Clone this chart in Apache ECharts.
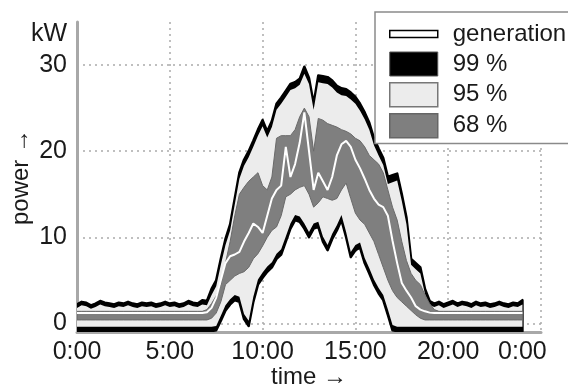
<!DOCTYPE html>
<html>
<head>
<meta charset="utf-8">
<script src="https://cdn.jsdelivr.net/npm/echarts@6/dist/echarts.min.js"></script>
<style>
  html, body { margin: 0; padding: 0; background: #fff; }
  #chart { width: 568px; height: 387px; }
</style>
</head>
<body>
<div id="chart"></div>
<script>
// quarter-hour steps over one day (0:00 .. 24:00)
const hours = [];
for (let i = 0; i <= 96; i++) hours.push(i / 4);

// upper / lower bounds of the quantile bands (kW)
const upper99 = [
  2.2, 2.5, 2.4, 2.1, 2.3, 2.6, 2.4, 2.3, 2.2, 2.4, 2.3, 2.5, 2.3, 2.2, 2.4, 2.3,
  2.4, 2.2, 2.3, 2.5, 2.3, 2.4, 2.2, 2.3, 2.6, 2.4, 2.3, 2.7,
  2.6, 4.0, 5.0, 7.5, 9.8, 11.5, 14.5, 17.5, 19.0, 20.0, 21.2, 22.5,
  23.6, 22.3, 23.5, 25.5, 26.2, 27.0, 27.8, 28.0, 28.4, 29.8, 28.5, 25.5,
  28.8, 28.7, 28.6, 28.2, 27.6, 27.3, 27.2, 26.8, 26.3, 25.5, 24.5, 23.3,
  21.5, 20.3, 19.2, 17.0, 17.2, 17.4, 15.0, 12.3, 7.5, 7.0, 6.5, 4.0, 2.6,
  2.3, 2.5, 2.2, 2.4, 2.6, 2.3, 2.5, 2.4, 2.2, 2.5, 2.3, 2.4, 2.2, 2.3, 2.5,
  2.3, 2.2, 2.4, 2.3, 2.7
];
const upper95 = [
  1.8, 2.1, 2.0, 1.7, 1.9, 2.2, 2.0, 1.9, 1.8, 2.0, 1.9, 2.1, 1.9, 1.8, 2.0, 1.9,
  2.0, 1.8, 1.9, 2.1, 1.9, 2.0, 1.8, 1.9, 2.2, 2.0, 1.9, 2.2,
  2.1, 3.3, 4.3, 6.8, 9.1, 10.8, 13.8, 16.8, 18.3, 19.3, 20.5, 21.8,
  22.9, 21.6, 22.8, 24.8, 25.5, 26.3, 27.1, 27.3, 27.7, 29.0, 27.8, 24.8,
  28.0, 27.9, 27.8, 27.4, 26.8, 26.5, 26.4, 26.0, 25.5, 24.7, 23.7, 22.5,
  20.7, 19.5, 18.4, 16.2, 16.4, 16.6, 14.2, 11.5, 6.8, 6.3, 5.8, 3.4, 2.1,
  1.9, 2.1, 1.8, 2.0, 2.2, 1.9, 2.1, 2.0, 1.8, 2.1, 1.9, 2.0, 1.8, 1.9, 2.1,
  1.9, 1.8, 2.0, 1.9, 2.2
];
const upper68 = [
  1.4, 1.4, 1.4, 1.4, 1.4, 1.4, 1.4, 1.4, 1.4, 1.4, 1.4, 1.4, 1.4, 1.4, 1.4, 1.4,
  1.4, 1.4, 1.4, 1.4, 1.4, 1.4, 1.4, 1.4, 1.4, 1.4, 1.4, 1.4,
  1.6, 2.3, 3.2, 4.5, 7.0, 9.5, 12.5, 15.0, 15.8, 16.5, 17.0, 17.5,
  16.0, 15.5, 17.0, 21.5, 21.8, 21.8, 21.8, 22.5, 24.0, 25.0, 24.0, 20.0,
  23.8, 23.6, 23.2, 23.0, 22.8, 22.5, 22.3, 22.0, 21.5, 21.2, 20.5, 19.5,
  19.0, 18.5, 17.5, 15.5, 13.5, 12.0, 9.5, 7.3, 5.8, 5.0, 4.5, 3.3, 2.3,
  1.6, 1.4, 1.4, 1.4, 1.4, 1.4, 1.4, 1.4, 1.4, 1.4, 1.4, 1.4, 1.4, 1.4, 1.4,
  1.4, 1.4, 1.4, 1.4, 1.4
];
const generation = [
  1.2, 1.2, 1.2, 1.2, 1.2, 1.2, 1.2, 1.2, 1.2, 1.2, 1.2, 1.2, 1.2, 1.2, 1.2, 1.2,
  1.2, 1.2, 1.2, 1.2, 1.2, 1.2, 1.2, 1.2, 1.2, 1.2, 1.2, 1.2,
  1.3, 1.8, 3.0, 5.0, 7.0, 7.8, 8.0, 8.3, 9.5, 10.5, 11.6, 11.2,
  10.5, 12.5, 14.5, 15.5, 16.0, 20.5, 17.0, 18.5, 21.0, 24.5, 20.0, 15.5,
  17.5, 16.5, 15.5, 17.0, 19.5, 20.8, 21.2, 20.5, 19.0, 18.0, 16.8, 15.5,
  14.5, 13.8, 13.5, 12.5, 9.6, 7.0, 4.7, 3.8, 3.0, 2.0, 1.6, 1.4, 1.25,
  1.2, 1.2, 1.2, 1.2, 1.2, 1.2, 1.2, 1.2, 1.2, 1.2, 1.2, 1.2, 1.2, 1.2, 1.2,
  1.2, 1.2, 1.2, 1.2, 1.2
];
const lower68 = [
  0.4, 0.4, 0.4, 0.4, 0.4, 0.4, 0.4, 0.4, 0.4, 0.4, 0.4, 0.4, 0.4, 0.4, 0.4, 0.4,
  0.4, 0.4, 0.4, 0.4, 0.4, 0.4, 0.4, 0.4, 0.4, 0.4, 0.4, 0.4,
  0.4, 0.6, 1.2, 2.5, 4.5, 5.0, 5.5, 5.8, 6.0, 6.5, 7.5, 8.1,
  9.0, 10.0, 10.8, 11.2, 12.5, 14.7, 15.0, 15.5, 15.8, 16.0, 15.0, 13.5,
  14.0, 14.7, 14.5, 14.3, 14.5, 15.5, 16.3, 14.5, 12.8, 12.0, 11.5, 10.5,
  9.5, 8.0, 6.5, 5.0, 3.8, 3.0, 2.5, 2.0, 1.5, 1.0, 0.6, 0.4, 0.4,
  0.4, 0.4, 0.4, 0.4, 0.4, 0.4, 0.4, 0.4, 0.4, 0.4, 0.4, 0.4, 0.4, 0.4, 0.4,
  0.4, 0.4, 0.4, 0.4, 0.4
];
const lower95 = [
  -0.4, -0.4, -0.4, -0.4, -0.4, -0.4, -0.4, -0.4, -0.4, -0.4, -0.4, -0.4, -0.4, -0.4, -0.4, -0.4,
  -0.4, -0.4, -0.4, -0.4, -0.4, -0.4, -0.4, -0.4, -0.4, -0.4, -0.4, -0.4,
  -0.4, -0.4, -0.3, 0.9, 2.1, 2.8, 3.3, 3.1, 1.1, 0.3, 3.1, 5.1,
  5.9, 6.6, 7.1, 8.1, 8.6, 10.1, 11.6, 12.6, 12.4, 11.6, 10.6, 11.6,
  11.8, 10.1, 9.1, 10.4, 11.4, 12.6, 10.6, 8.3, 9.1, 9.4, 7.6, 6.4,
  5.1, 4.1, 3.3, 1.6, -0.2, -0.4, -0.4, -0.4, -0.4, -0.4, -0.4, -0.4, -0.4,
  -0.4, -0.4, -0.4, -0.4, -0.4, -0.4, -0.4, -0.4, -0.4, -0.4, -0.4, -0.4, -0.4, -0.4, -0.4,
  -0.4, -0.4, -0.4, -0.4, -0.4
];
const lower99 = [
  -0.9, -0.9, -0.9, -0.9, -0.9, -0.9, -0.9, -0.9, -0.9, -0.9, -0.9, -0.9, -0.9, -0.9, -0.9, -0.9,
  -0.9, -0.9, -0.9, -0.9, -0.9, -0.9, -0.9, -0.9, -0.9, -0.9, -0.9, -0.9,
  -0.9, -0.9, -0.8, 0.3, 1.5, 2.2, 2.7, 2.5, 0.5, -0.3, 2.5, 4.5,
  5.3, 6.0, 6.5, 7.5, 8.0, 9.5, 11.0, 12.0, 11.8, 11.0, 10.0, 11.0,
  11.2, 9.5, 8.5, 9.8, 10.8, 12.0, 10.0, 7.7, 8.5, 8.8, 7.0, 5.8,
  4.5, 3.5, 2.7, 1.0, -0.8, -0.9, -0.9, -0.9, -0.9, -0.9, -0.9, -0.9, -0.9,
  -0.9, -0.9, -0.9, -0.9, -0.9, -0.9, -0.9, -0.9, -0.9, -0.9, -0.9, -0.9, -0.9, -0.9, -0.9,
  -0.9, -0.9, -0.9, -0.9, -0.9
];

const xTickLabels = [0, 5, 10, 15, 20, 24];
const yTickLabels = [0, 10, 20, 30];

const FONT = '"Liberation Sans", Arial, sans-serif';
const TEXT = '#1a1a1a';

// one band = a polygon from the upper bound, back along the lower bound
function band(name, lower, upper, fill, edge, edgeWidth) {
  return {
    name, type: 'custom', silent: true, clip: true,
    data: [0],
    renderItem: (params, api) => {
      const top = upper.map((v, i) => api.coord([hours[i], v]));
      const bottom = lower.map((v, i) => api.coord([hours[i], v])).reverse();
      return {
        type: 'polygon',
        shape: { points: top.concat(bottom) },
        style: { fill, stroke: edge, lineWidth: edgeWidth, lineJoin: 'round' }
      };
    }
  };
}

const chart = echarts.init(document.getElementById('chart'), null, { renderer: 'canvas' });

chart.setOption({
  animation: false,
  backgroundColor: '#fff',
  textStyle: { fontFamily: FONT },
  grid: { left: 77, right: 27, top: 22, bottom: 55, containLabel: false, outerBoundsMode: 'none' },
  xAxis: {
    type: 'value', min: 0, max: 25, interval: 5,
    name: 'time →', nameLocation: 'middle', nameGap: 33, nameMoveOverlap: false,
    nameTextStyle: { fontSize: 24, color: TEXT, fontFamily: FONT },
    axisLine: { show: true, onZero: false, lineStyle: { color: '#a8a8a8', width: 3 } },
    axisTick: { show: false },
    axisLabel: {
      customValues: xTickLabels,
      formatter: (v) => (v % 24) + ':00',
      fontSize: 25, color: TEXT, fontFamily: FONT, margin: 8
    },
    splitLine: { show: true, lineStyle: { type: [2, 4], color: '#aaa', width: 1.5 } }
  },
  yAxis: {
    type: 'value', min: -1, max: 35,
    name: 'power →', nameLocation: 'middle', nameGap: 44, nameMoveOverlap: false,
    nameTextStyle: { fontSize: 24, color: TEXT, fontFamily: FONT },
    axisLine: { show: true, lineStyle: { color: '#a8a8a8', width: 3 } },
    axisTick: { show: false, customValues: yTickLabels },
    axisLabel: { customValues: yTickLabels, fontSize: 25, color: TEXT, fontFamily: FONT, margin: 10 },
    splitLine: { show: true, lineStyle: { type: [2, 4], color: '#aaa', width: 1.5 } }
  },
  legend: {
    orient: 'vertical', left: 375, top: 12,
    padding: [10, 40, 5, 14],
    itemWidth: 48, itemHeight: 24, itemGap: 5.5,
    backgroundColor: '#fff', borderColor: '#8a8a8a', borderWidth: 1.5,
    selectedMode: false,
    textStyle: { fontSize: 24, lineHeight: 24, color: TEXT, fontFamily: FONT, padding: [0, 0, 0, 10] },
    data: [
      { name: 'generation', icon: 'path://M0,0H48V7H0Z', itemStyle: { color: '#fff', borderColor: '#000', borderWidth: 1.5 } },
      { name: '99 %', icon: 'rect', itemStyle: { color: '#000', borderColor: '#555', borderWidth: 1 } },
      { name: '95 %', icon: 'rect', itemStyle: { color: '#ececec', borderColor: '#777', borderWidth: 1.5 } },
      { name: '68 %', icon: 'rect', itemStyle: { color: '#7f7f7f', borderColor: '#666', borderWidth: 1.5 } }
    ]
  },
  graphic: [
    { type: 'text', left: 31, top: 22, style: { text: 'kW', fontSize: 25, fontFamily: FONT, fill: TEXT } }
  ],
  series: [
    band('99 %', lower99, upper99, '#000000', '#000000', 2.5),
    band('95 %', lower95, upper95, '#ececec', '#ececec', 0),
    band('68 %', lower68, upper68, '#7f7f7f', '#6a6a6a', 1),
    {
      name: 'generation', type: 'line', data: generation.map((v, i) => [hours[i], v]),
      symbol: 'none', silent: true,
      lineStyle: { color: '#fff', width: 2 }
    }
  ]
});
</script>
</body>
</html>
